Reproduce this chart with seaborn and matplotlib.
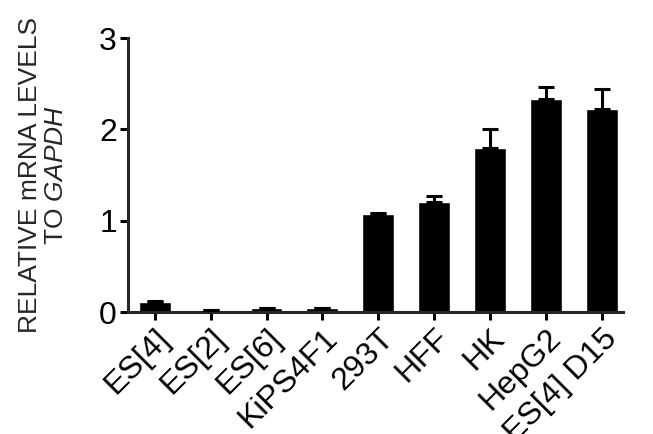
import numpy as np
import matplotlib
matplotlib.use('Agg')
import matplotlib.pyplot as plt
import seaborn as sns

# --- Data ---
cells = ['ES[4]', 'ES[2]', 'ES[6]', 'KiPS4F1', '293T', 'HFF', 'HK', 'HepG2', 'ES[4] D15']
levels = [0.11, 0.02, 0.04, 0.04, 1.07, 1.21, 1.80, 2.33, 2.22]
errors = [0.01, 0.0, 0.005, 0.005, 0.01, 0.06, 0.20, 0.13, 0.22]

sns.set_style('ticks')
plt.rcParams['font.family'] = ['Liberation Sans', 'DejaVu Sans']
plt.rcParams['mathtext.fontset'] = 'custom'
plt.rcParams['mathtext.rm'] = 'Liberation Sans'
plt.rcParams['mathtext.it'] = 'Liberation Sans:italic'

fig = plt.figure(figsize=(6.53, 4.34), dpi=100)
ax = fig.add_axes([0.196, 0.281, 0.758, 0.631])

sns.barplot(x=cells, y=levels, color='black', width=0.57, saturation=1, ax=ax)
ax.errorbar(np.arange(len(cells)), levels, yerr=[np.zeros(len(errors)), errors],
            fmt='none', ecolor='black', elinewidth=2.2, capsize=5.5, capthick=2.2, zorder=3)

ax.set_ylim(0, 3)
ax.set_xlim(-0.48, 8.38)
ax.set_yticks([0, 1, 2, 3])
ax.set_ylabel('RELATIVE mRNA LEVELS\nTO $\\it{GAPDH}$', fontsize=19, linespacing=1.15, labelpad=22)

sns.despine(ax=ax)
for s in ['left', 'bottom']:
    ax.spines[s].set_linewidth(2.2)
ax.tick_params(axis='both', width=2.2, length=6, labelsize=23, color='black', labelcolor='black', pad=2)
plt.setp(ax.get_xticklabels(), rotation=45, ha='right', rotation_mode='anchor')

fig.savefig('out.png', dpi=100)
